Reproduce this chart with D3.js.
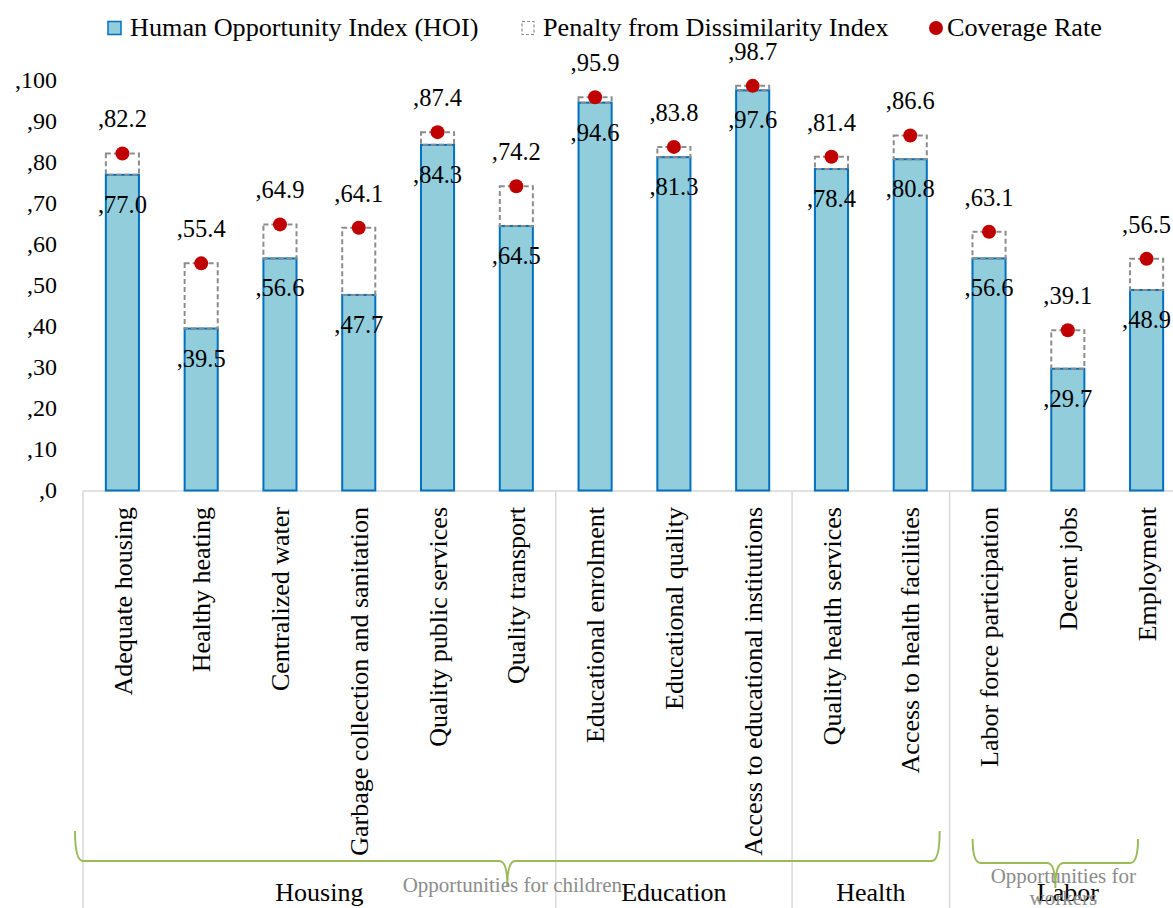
<!DOCTYPE html>
<html>
<head>
<meta charset="utf-8">
<script src="https://cdn.jsdelivr.net/npm/d3@7/dist/d3.min.js"></script>
<style>
  html, body { margin: 0; padding: 0; background: #fff; }
  svg { display: block; font-family: "Liberation Serif", "DejaVu Serif", serif; }
</style>
</head>
<body>
<svg id="chart" width="1173" height="908"></svg>
<script>
// ---- data ----
const categories = [
  "Adequate housing", "Healthy heating", "Centralized water",
  "Garbage collection and sanitation", "Quality public services", "Quality transport",
  "Educational enrolment", "Educational quality", "Access to educational institutions",
  "Quality health services", "Access to health facilities",
  "Labor force participation", "Decent jobs", "Employment"
];
const hoiValues = [77.0, 39.5, 56.6, 47.7, 84.3, 64.5, 94.6, 81.3, 97.6, 78.4, 80.8, 56.6, 29.7, 48.9];
const coverageValues = [82.2, 55.4, 64.9, 64.1, 87.4, 74.2, 95.9, 83.8, 98.7, 81.4, 86.6, 63.1, 39.1, 56.5];
const groupNames = ["Housing", "Education", "Health", "Labor"];
const groupSizes = [6, 3, 2, 3];
const yTicks = [0, 10, 20, 30, 40, 50, 60, 70, 80, 90, 100];
const seriesNames = ["Human Opportunity Index (HOI)", "Penalty from Dissimilarity Index", "Coverage Rate"];
const braceLabels = [["Opportunities for children"], ["Opportunities for", "workers"]];

// ---- layout ----
const svg = d3.select("#chart");
const x = d3.scaleBand().domain(categories).range([83, 1186]).padding(0);
const y = d3.scaleLinear().domain([0, 100]).range([490.5, 80.5]);
const bw = x.bandwidth() * 0.42;
const bx = c => x(c) + (x.bandwidth() - bw) / 2;
const data = categories.map((c, i) => ({ c, hoi: hoiValues[i], cov: coverageValues[i] }));

const green = "#9BBB59";
const grid = "#d9d9d9";

// y axis labels
svg.append("g").selectAll("text").data(yTicks).join("text")
  .attr("x", 57).attr("y", d => y(d)).attr("dy", "0.33em")
  .attr("text-anchor", "end").attr("font-size", 24).attr("fill", "#000")
  .text(d => "," + d);

// bottom axis line & group separators
svg.append("line").attr("x1", 83).attr("x2", 1186).attr("y1", 491).attr("y2", 491)
  .attr("stroke", grid).attr("stroke-width", 1.5);
let acc = 0;
const groups = groupNames.map((g, i) => {
  const first = categories[acc], last = categories[acc + groupSizes[i] - 1];
  acc += groupSizes[i];
  return { name: g, x0: x(first), x1: x(last) + x.bandwidth() };
});
const sepXs = [groups[0].x0].concat(groups.map(g => g.x1));
svg.append("g").selectAll("line").data(sepXs).join("line")
  .attr("x1", d => d).attr("x2", d => d).attr("y1", 491).attr("y2", 908)
  .attr("stroke", grid).attr("stroke-width", 1.5);

// bars (HOI)
svg.append("g").selectAll("rect").data(data).join("rect")
  .attr("x", d => bx(d.c)).attr("width", bw)
  .attr("y", d => y(d.hoi)).attr("height", d => y(0) - y(d.hoi))
  .attr("fill", "#92CDDC").attr("stroke", "#0070C0").attr("stroke-width", 2);

// penalty (dashed)
svg.append("g").selectAll("rect").data(data).join("rect")
  .attr("x", d => bx(d.c)).attr("width", bw)
  .attr("y", d => y(d.cov)).attr("height", d => y(d.hoi) - y(d.cov))
  .attr("fill", "none").attr("stroke", "#8c8c8c").attr("stroke-width", 2)
  .attr("stroke-dasharray", "5,3");

// coverage dots
svg.append("g").selectAll("circle").data(data).join("circle")
  .attr("cx", d => x(d.c) + x.bandwidth() / 2).attr("cy", d => y(d.cov)).attr("r", 7)
  .attr("fill", "#C00000");

// labels
svg.append("g").selectAll("text").data(data).join("text")
  .attr("x", d => x(d.c) + x.bandwidth() / 2).attr("y", d => y(d.hoi) + 38)
  .attr("text-anchor", "middle").attr("font-size", 24.5).text(d => "," + d.hoi.toFixed(1));
svg.append("g").selectAll("text").data(data).join("text")
  .attr("x", d => x(d.c) + x.bandwidth() / 2).attr("y", d => y(d.cov) - 26)
  .attr("text-anchor", "middle").attr("font-size", 24.5).text(d => "," + d.cov.toFixed(1));

// category labels
svg.append("g").selectAll("text").data(categories).join("text")
  .attr("transform", d => `translate(${x(d) + x.bandwidth() / 2},507) rotate(-90)`)
  .attr("text-anchor", "end").attr("dy", "0.35em").attr("font-size", 26)
  .text(d => d);

// group labels
svg.append("g").selectAll("text").data(groups).join("text")
  .attr("x", d => (d.x0 + d.x1) / 2).attr("y", 901)
  .attr("text-anchor", "middle").attr("font-size", 26).text(d => d.name);

// braces
function brace(x1, x2, yTop, yMid, yTip) {
  const m = (x1 + x2) / 2, r = 8;
  return `M${x1},${yTop} Q${x1},${yMid} ${x1 + r},${yMid} L${m - r},${yMid} Q${m},${yMid} ${m},${yTip}` +
         ` Q${m},${yMid} ${m + r},${yMid} L${x2 - r},${yMid} Q${x2},${yMid} ${x2},${yTop}`;
}
const braces = [
  { x1: groups[0].x0 - 8, x2: groups[2].x1 - 10, yTop: 831, yMid: 861, yTip: 886, lines: braceLabels[0], ly: 892 },
  { x1: groups[3].x0 + 23, x2: groups[3].x1 - 48, yTop: 839, yMid: 863, yTip: 888, lines: braceLabels[1], ly: 883 }
];
svg.append("g").selectAll("path").data(braces).join("path")
  .attr("d", d => brace(d.x1, d.x2, d.yTop, d.yMid, d.yTip))
  .attr("fill", "none").attr("stroke", green).attr("stroke-width", 2);
braces.forEach(b => {
  const t = svg.append("text").attr("x", (b.x1 + b.x2) / 2 + 5).attr("y", b.ly)
    .attr("text-anchor", "middle").attr("font-size", 21).attr("fill", "#8c8c8c");
  b.lines.forEach((l, i) => t.append("tspan").attr("x", (b.x1 + b.x2) / 2 + (b.lines.length > 1 ? 8 : 5))
    .attr("dy", i === 0 ? 0 : 22).text(l));
});

// legend
const lg = svg.append("g");
lg.append("rect").attr("x", 108).attr("y", 21.5).attr("width", 13).attr("height", 13)
  .attr("fill", "#92CDDC").attr("stroke", "#0070C0").attr("stroke-width", 1.5);
lg.append("text").attr("x", 130).attr("y", 36).attr("font-size", 26.2).text(seriesNames[0]);
lg.append("rect").attr("x", 522).attr("y", 21.5).attr("width", 12).attr("height", 13)
  .attr("fill", "none").attr("stroke", "#8c8c8c").attr("stroke-width", 1.2).attr("stroke-dasharray", "3,2");
lg.append("text").attr("x", 543).attr("y", 36).attr("font-size", 26.2).text(seriesNames[1]);
lg.append("circle").attr("cx", 936).attr("cy", 28).attr("r", 7).attr("fill", "#C00000");
lg.append("text").attr("x", 947).attr("y", 36).attr("font-size", 26.2).text(seriesNames[2]);
</script>
</body>
</html>
